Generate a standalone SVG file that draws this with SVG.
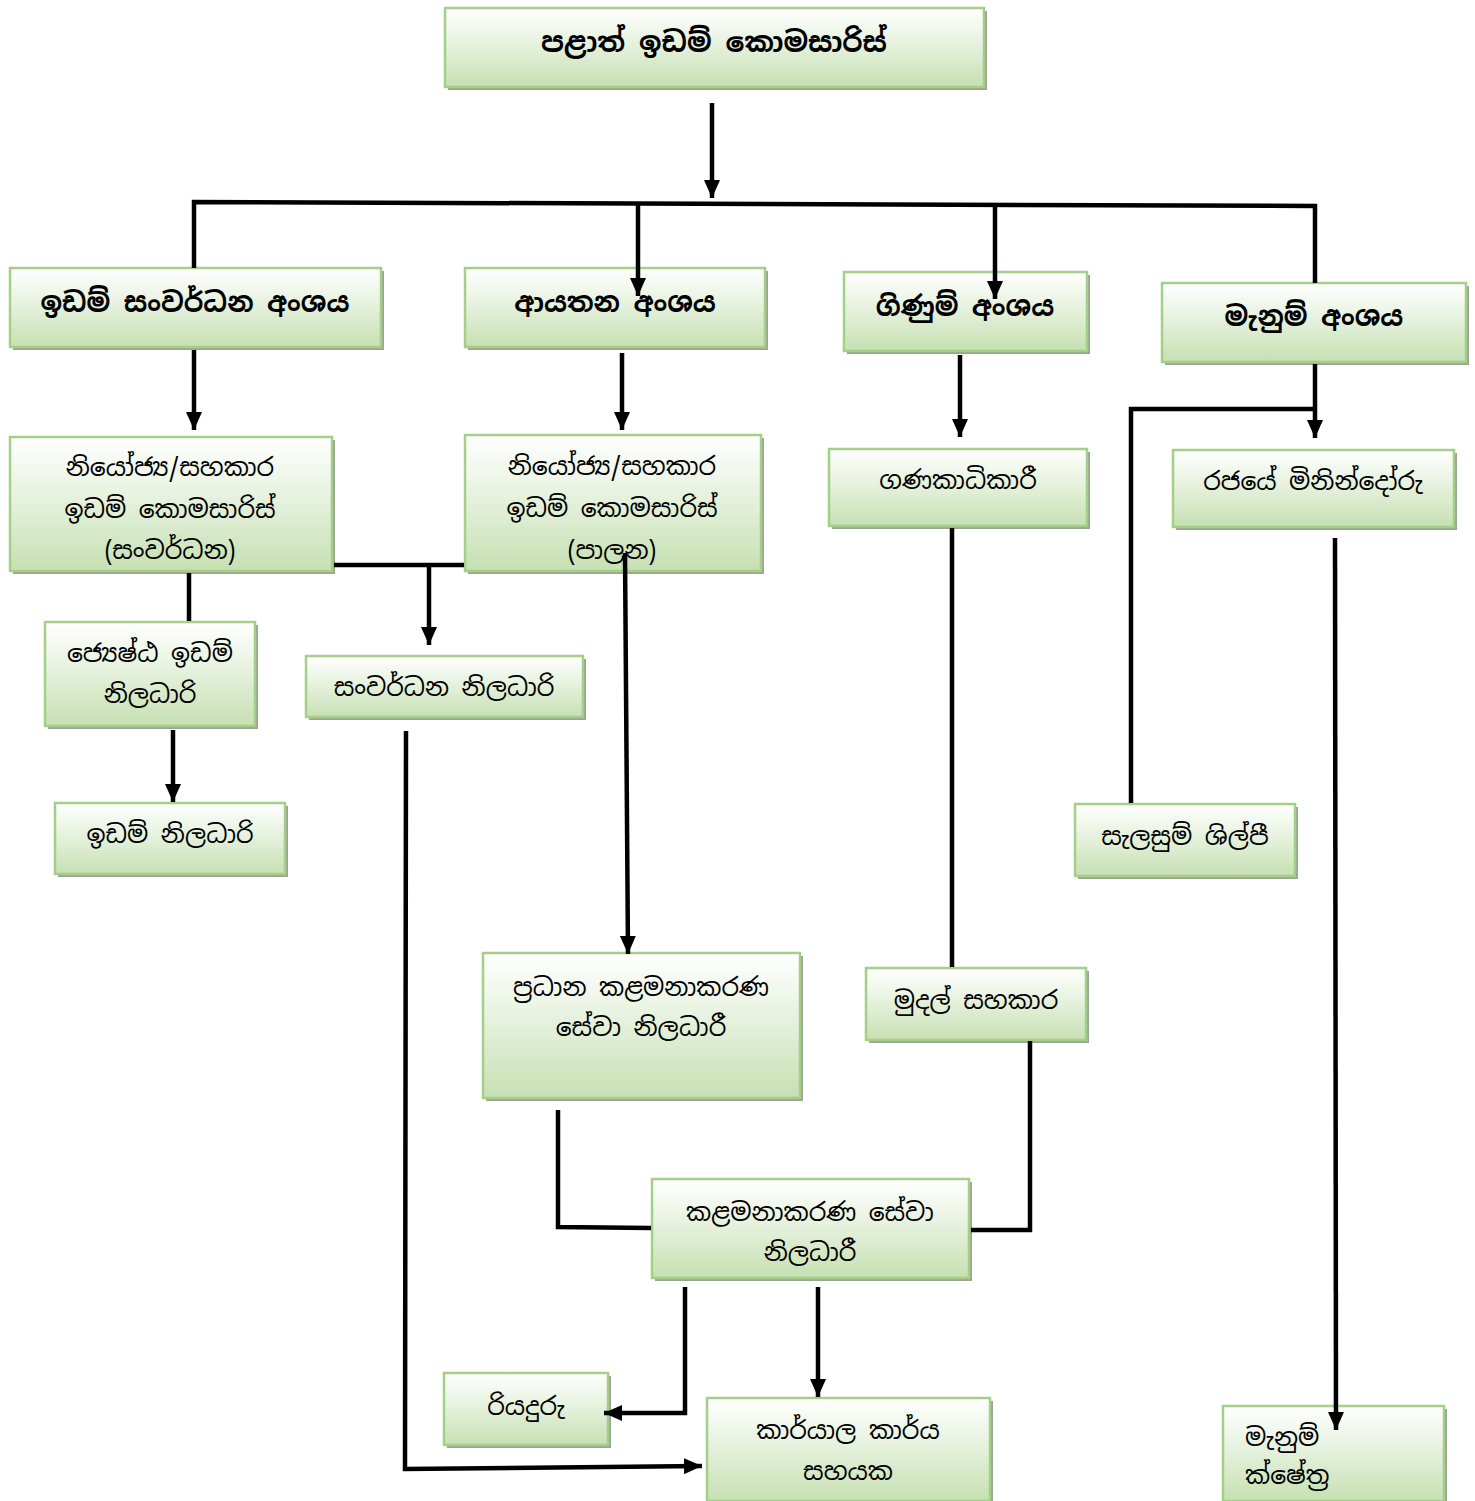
<svg xmlns="http://www.w3.org/2000/svg" width="1475" height="1501" viewBox="0 0 1475 1501">
<defs>
<linearGradient id="g" x1="0" y1="0" x2="0" y2="1">
<stop offset="0" stop-color="#ffffff"/>
<stop offset="0.35" stop-color="#ecf5e6"/>
<stop offset="1" stop-color="#c6e0b2"/>
</linearGradient>
<marker id="ah" markerUnits="userSpaceOnUse" markerWidth="18" markerHeight="16" refX="18" refY="8" orient="auto">
<path d="M0,0 L18,8 L0,16 z" fill="#000"/>
</marker>
</defs>
<style>
.sh{fill:#9ca593}
.bx{fill:url(#g);stroke:#a3cf88;stroke-width:2.5}
.t{font-family:"Noto Sans Sinhala","Noto Sans","DejaVu Sans",sans-serif;font-size:25px;text-anchor:middle;fill:#000}
.b{font-weight:bold;font-size:27px}
.bt{font-size:28px}
.c{fill:none;stroke:#000;stroke-width:4.5}
.a{marker-end:url(#ah)}
</style>
<rect width="1475" height="1501" fill="#fff"/>

<g id="n1"><rect class="sh" x="448" y="11" width="539" height="79"/><rect class="bx" x="445" y="8" width="539" height="79"/><text class="t b bt" x="714" y="52">පළාත් ඉඩම් කොමසාරිස්</text></g>

<g id="n2"><rect class="sh" x="13" y="271" width="371" height="79"/><rect class="bx" x="10" y="268" width="371" height="79"/><text class="t b" x="195" y="312">ඉඩම් සංවර්ධන අංශය</text></g>
<g id="n3"><rect class="sh" x="468" y="271" width="300" height="79"/><rect class="bx" x="465" y="268" width="300" height="79"/><text class="t b" x="615" y="312">ආයතන අංශය</text></g>
<g id="n4"><rect class="sh" x="847" y="275" width="243" height="79"/><rect class="bx" x="844" y="272" width="243" height="79"/><text class="t b" x="965" y="316">ගිණුම් අංශය</text></g>
<g id="n5"><rect class="sh" x="1165" y="286" width="304" height="79"/><rect class="bx" x="1162" y="283" width="304" height="79"/><text class="t b" x="1314" y="326">මැනුම් අංශය</text></g>

<g id="n6"><rect class="sh" x="13" y="440" width="322" height="134"/><rect class="bx" x="10" y="437" width="322" height="134"/><text class="t" x="170" y="476">නියෝජ්‍ය/සහකාර</text><text class="t" x="170" y="518">ඉඩම් කොමසාරිස්</text><text class="t" x="170" y="559">(සංවර්ධන)</text></g>
<g id="n7"><rect class="sh" x="468" y="438" width="296" height="136"/><rect class="bx" x="465" y="435" width="296" height="136"/><text class="t" x="612" y="475">නියෝජ්‍ය/සහකාර</text><text class="t" x="612" y="517">ඉඩම් කොමසාරිස්</text><text class="t" x="612" y="559">(පාලන)</text></g>
<g id="n8"><rect class="sh" x="832" y="452" width="258" height="77"/><rect class="bx" x="829" y="449" width="258" height="77"/><text class="t" x="958" y="489">ගණකාධිකාරී</text></g>
<g id="n9"><rect class="sh" x="1176" y="453" width="281" height="77"/><rect class="bx" x="1173" y="450" width="281" height="77"/><text class="t" x="1313" y="490">රජයේ මිනින්දෝරු</text></g>

<g id="n10"><rect class="sh" x="48" y="625" width="210" height="104"/><rect class="bx" x="45" y="622" width="210" height="104"/><text class="t" x="150" y="662">ජ්‍යෙෂ්ඨ ඉඩම්</text><text class="t" x="150" y="703">නිලධාරි</text></g>
<g id="n11"><rect class="sh" x="309" y="659" width="277" height="61"/><rect class="bx" x="306" y="656" width="277" height="61"/><text class="t" x="444" y="696">සංවර්ධන නිලධාරි</text></g>
<g id="n12"><rect class="sh" x="58" y="806" width="230" height="71"/><rect class="bx" x="55" y="803" width="230" height="71"/><text class="t" x="170" y="843">ඉඩම් නිලධාරි</text></g>
<g id="n13"><rect class="sh" x="1078" y="807" width="220" height="72"/><rect class="bx" x="1075" y="804" width="220" height="72"/><text class="t" x="1185" y="845">සැලසුම් ශිල්පී</text></g>

<g id="n14"><rect class="sh" x="486" y="956" width="317" height="145"/><rect class="bx" x="483" y="953" width="317" height="145"/><text class="t" x="641" y="996">ප්‍රධාන කළමනාකරණ</text><text class="t" x="641" y="1036">සේවා නිලධාරී</text></g>
<g id="n15"><rect class="sh" x="869" y="971" width="220" height="72"/><rect class="bx" x="866" y="968" width="220" height="72"/><text class="t" x="976" y="1009">මුදල් සහකාර</text></g>
<g id="n16"><rect class="sh" x="655" y="1182" width="317" height="99"/><rect class="bx" x="652" y="1179" width="317" height="99"/><text class="t" x="810" y="1221">කළමනාකරණ සේවා</text><text class="t" x="810" y="1261">නිලධාරී</text></g>
<g id="n17"><rect class="sh" x="447" y="1376" width="164" height="72"/><rect class="bx" x="444" y="1373" width="164" height="72"/><text class="t" x="526" y="1415">රියදුරු</text></g>
<g id="n18"><rect class="sh" x="710" y="1401" width="283" height="103"/><rect class="bx" x="707" y="1398" width="283" height="103"/><text class="t" x="848" y="1439">කාර්යාල කාර්ය</text><text class="t" x="848" y="1480">සහයක</text></g>
<g id="n19"><rect class="sh" x="1226" y="1409" width="221" height="95"/><rect class="bx" x="1223" y="1406" width="221" height="95"/><text class="t" x="1245" y="1446" style="text-anchor:start">මැනුම්</text><text class="t" x="1245" y="1484" style="text-anchor:start">ක්ෂේත්‍ර</text></g>

<g id="connectors">
<line class="c a" x1="712" y1="103" x2="712" y2="198"/>
<polyline class="c" points="194,268 194,202 1315,206 1315,283"/>
<line class="c a" x1="638" y1="204" x2="638" y2="296"/>
<line class="c a" x1="995" y1="205" x2="995" y2="299"/>
<line class="c a" x1="194" y1="350" x2="194" y2="430"/>
<line class="c a" x1="622" y1="353" x2="622" y2="430"/>
<line class="c a" x1="960" y1="355" x2="960" y2="437"/>
<line class="c a" x1="1315" y1="364" x2="1315" y2="438"/>
<polyline class="c" points="1315,409 1131,409 1131,803"/>
<line class="c" x1="189" y1="573" x2="189" y2="621"/>
<line class="c" x1="334" y1="565" x2="464" y2="565"/>
<line class="c a" x1="429" y1="565" x2="429" y2="645"/>
<line class="c a" x1="173" y1="730" x2="173" y2="802"/>
<line class="c a" x1="625" y1="553" x2="628" y2="954"/>
<line class="c" x1="952" y1="528" x2="952" y2="967"/>
<polyline class="c" points="558,1110 558,1227 651,1228"/>
<polyline class="c" points="1030,1041 1030,1230 971,1230"/>
<polyline class="c a" points="685,1287 685,1413 604,1413"/>
<line class="c a" x1="818" y1="1287" x2="818" y2="1397"/>
<polyline class="c a" points="406,731 405,1469 702,1466"/>
<line class="c a" x1="1335" y1="538" x2="1336" y2="1430"/>
</g>
</svg>
